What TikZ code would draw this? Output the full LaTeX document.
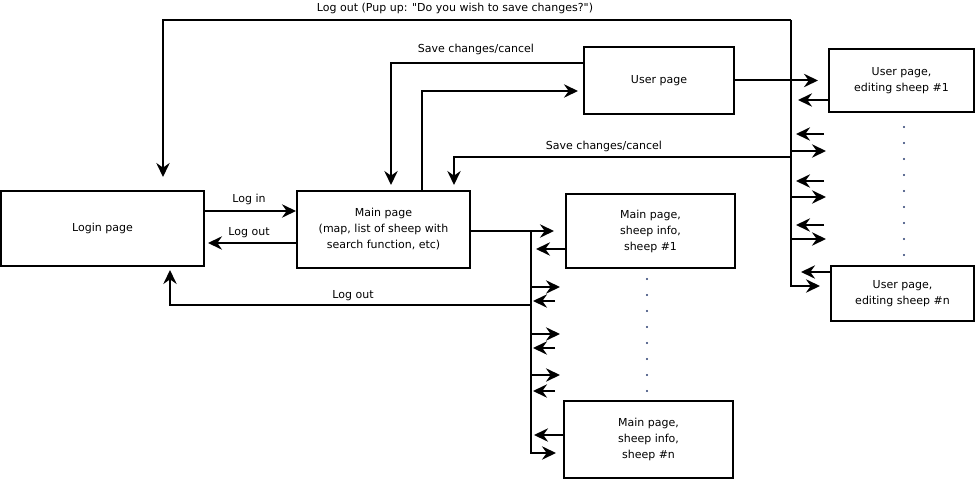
\documentclass[tikz,border=0pt]{standalone}
\usepackage{fontspec}
\setmainfont[Ligatures=TeXOff]{DejaVu Sans}
\usetikzlibrary{arrows.meta}
\definecolor{dotblue}{RGB}{40,60,110}

\begin{document}
\begin{tikzpicture}[x=0.75pt, y=-0.75pt, line width=1.5pt,
  page/.style={draw, rectangle, inner sep=0pt, align=center, font=\fontsize{8.25}{12}\selectfont},
  lbl/.style={inner sep=0pt, font=\fontsize{8.25}{12}\selectfont},
  arr/.style={-{Stealth[length=10.5pt,width=10pt,inset=3.5pt]}},
  dot/.style={circle, fill=dotblue, inner sep=0pt, minimum size=1.6pt}]
\useasboundingbox (0,0) rectangle (977,481);

\node[page, minimum width=203*0.75pt, minimum height=75*0.75pt] (pg0) at (102.5,228.5) {Login page};
\node[page, minimum width=173*0.75pt, minimum height=77*0.75pt] (pg1) at (383.5,229.5) {Main page\\(map, list of sheep with\\search function, etc)};
\node[page, minimum width=150*0.75pt, minimum height=67*0.75pt] (pg2) at (659,80.5) {User page};
\node[page, minimum width=145*0.75pt, minimum height=63*0.75pt] (pg3) at (901.5,80.5) {User page,\\editing sheep \#1};
\node[page, minimum width=143*0.75pt, minimum height=55*0.75pt] (pg4) at (902.5,293.5) {User page,\\editing sheep \#n};
\node[page, minimum width=169*0.75pt, minimum height=74*0.75pt] (pg5) at (650.5,231) {Main page,\\sheep info,\\sheep \#1};
\node[page, minimum width=169*0.75pt, minimum height=77*0.75pt] (pg6) at (648.5,439.5) {Main page,\\sheep info,\\sheep \#n};

% corners of the connectors
\coordinate (tr0) at (791,20);
\coordinate (tr1) at (531,231);
\coordinate (lo0) at (163,20);
\coordinate (lo1) at (170,305);
\coordinate (sv0) at (391,63);
\coordinate (sv1) at (454,157);
\coordinate (up0) at (422,91);

% log out from the user pages
\draw[arr, shorten >=9.75pt] (tr0) -- (lo0) -- (lo0 |- pg0.north);
\node[lbl] (t0) at (455,8) {Log out (Pup up: "Do you wish to save changes?")};
\draw[arr, shorten >=7.5pt] (tr0) -- (tr0 |- 0,286) -- (pg4.west |- 0,286);

% login and main page
\draw[arr] (pg0.east |- 0,211) -- (pg1.west |- 0,211);
\node[lbl] (t1) at (249,199) {Log in};
\draw[arr, shorten >=2.25pt] (pg1.west |- 0,243) -- (pg0.east |- 0,243);
\node[lbl] (t2) at (249,233) {Log out};

% main page and user page
\draw[arr, shorten >=3.75pt] (up0 |- pg1.north) -- (up0) -- (pg2.west |- up0);
\draw[arr, shorten >=3.75pt] (pg2.west |- sv0) -- (sv0) -- (sv0 |- pg1.north);
\node[lbl] (t3) at (476,49) {Save changes/cancel};
\draw[arr, shorten >=3.75pt] (tr0 |- sv1) -- (sv1) -- (sv1 |- pg1.north);
\node[lbl] (t4) at (604,146) {Save changes/cancel};

% user page and editing pages
\draw[arr, shorten >=7.5pt] (pg2.east) -- (pg3.west |- pg2.east);
\draw[arr, shorten >=5.25pt] (pg3.west |- 0,100) -- (tr0 |- 0,100);
\draw[arr, shorten >=7.5pt] (pg4.west |- 0,272) -- (tr0 |- 0,272);
\foreach \y in {134,181,225}
  \draw[arr] (tr0 |- 0,\y) ++(33,0) -- ++(-28,0);
\foreach \y in {151,197,239}
  \draw[arr] (tr0 |- 0,\y) -- ++(35,0);

% main page and sheep info pages
\draw[arr, shorten >=8.25pt] (pg1.east |- tr1) -- (pg5.west |- tr1);
\draw[arr, shorten >=5.25pt] (tr1) -- (tr1 |- 0,453) -- (pg6.west |- 0,453);
\draw[arr, shorten >=3.75pt] (pg5.west |- 0,249) -- (tr1 |- 0,249);
\draw[arr, shorten >=2.25pt] (pg6.west |- 0,435) -- (tr1 |- 0,435);
\draw[arr, shorten >=2.25pt] (tr1 |- lo1) -- (lo1) -- (lo1 |- pg0.south);
\node[lbl] (t5) at (353,296) {Log out};
\foreach \y in {287,334,375}
  \draw[arr] (tr1 |- 0,\y) -- ++(29,0);
\foreach \y in {301,348,391}
  \draw[arr] (tr1 |- 0,\y) ++(24,0) -- ++(-22,0);

% dots
\foreach \y in {127,143,...,255}
  \node[dot] at (904,\y) {};
\foreach \y in {279,295,...,391}
  \node[dot] at (647,\y) {};
\end{tikzpicture}
\end{document}
